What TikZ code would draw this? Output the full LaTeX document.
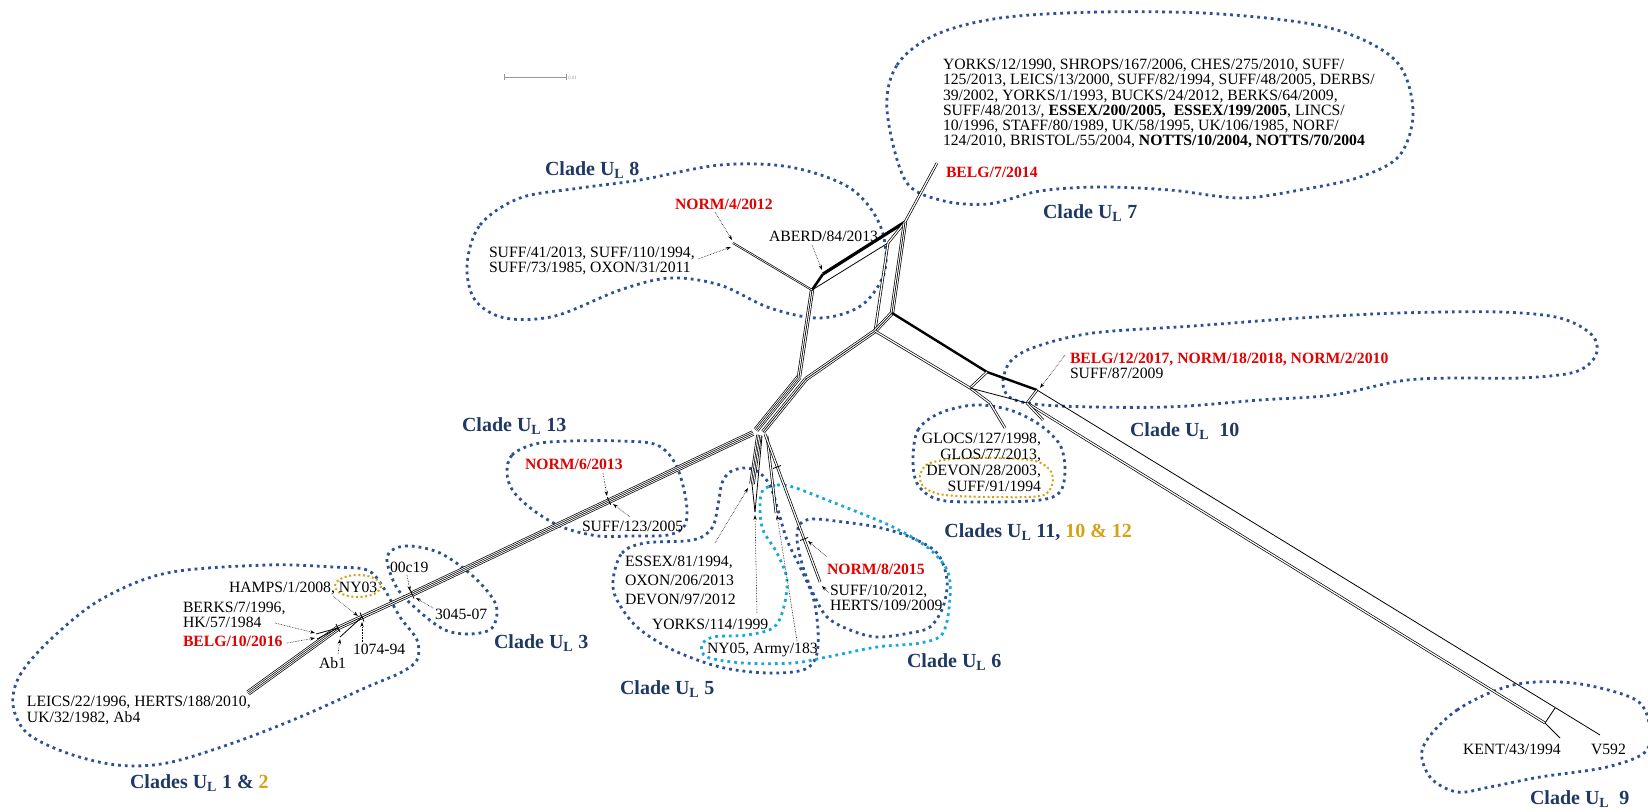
\documentclass[tikz,border=0pt]{standalone}
\usepackage{fontspec}
\setmainfont{Liberation Serif}
\usetikzlibrary{arrows.meta}
\definecolor{navy}{RGB}{31,56,100}
\definecolor{dotblue}{RGB}{44,82,148}
\definecolor{dotcyan}{RGB}{24,168,218}
\definecolor{gold}{RGB}{214,162,20}
\definecolor{lred}{RGB}{226,0,0}
\definecolor{scalegray}{RGB}{150,150,150}
\tikzset{
  lbl/.style={inner sep=0pt, outer sep=0pt, font=\fontsize{15.7}{15.3}\selectfont, align=left},
  redlbl/.style={inner sep=0pt, outer sep=0pt, text=lred, font=\fontsize{15.7}{15.3}\selectfont\bfseries},
  cladelbl/.style={inner sep=0pt, outer sep=0pt, text=navy, font=\fontsize{20}{22}\selectfont\bfseries},
  ring/.style={dotblue, line width=2.8pt, dash pattern=on 2.8pt off 4pt},
  cyanring/.style={dotcyan, line width=2.8pt, dash pattern=on 2.8pt off 4pt},
  goldring/.style={gold, line width=2pt, dash pattern=on 2pt off 2.6pt},
  ptr/.style={densely dotted, line width=0.6pt, -{Stealth[length=5pt,width=3.4pt]}},
  eA/.style={line width=0.8pt},
  eB/.style={double, line width=0.7pt, double distance=1.2pt},
  eC/.style={line width=4.2pt, postaction={draw, white, line width=2.8pt}, postaction={draw, black, line width=0.7pt}},
  eD/.style={line width=5.4pt, postaction={draw, white, line width=4pt}, postaction={draw, black, line width=2.2pt}, postaction={draw, white, line width=0.8pt}},
  ethick/.style={line width=2.4pt},
}
\begin{document}
\begin{tikzpicture}[x=1pt,y=-1pt]
\fill[white] (0,0) rectangle (1648,811);
\useasboundingbox (0,0) rectangle (1648,811);

% ---------------- clade outlines ----------------
\draw[ring] plot[smooth cycle, tension=0.55] coordinates {(887,110) (897,65) (935,35) (1000,18) (1100,12) (1220,14) (1330,28) (1395,60) (1413,110) (1400,155) (1360,177) (1300,190) (1240,198) (1170,190) (1100,187) (1040,191) (988,204) (940,200) (905,180)};
\draw[ring] plot[smooth cycle, tension=0.55] coordinates {(467,265) (480,225) (520,198) (580,188) (640,180) (720,165) (790,167) (850,188) (880,225) (885,270) (862,305) (820,318) (770,308) (720,285) (670,278) (620,290) (555,316) (505,318) (475,300)};
\draw[ring] plot[smooth cycle, tension=0.55] coordinates {(507,473) (512,455) (535,444) (570,441) (620,441) (657,445) (676,465) (686,500) (685,525) (668,535) (630,536) (598,536) (562,527) (533,510) (513,491)};
\draw[ring] plot[smooth cycle, tension=0.55] coordinates {(387,557) (405,546) (440,553) (475,578) (496,605) (492,628) (470,634) (445,630) (420,612) (397,588)};
\draw[ring] plot[smooth cycle, tension=0.55] coordinates {(13,705) (20,675) (50,640) (100,600) (167,573) (267,565) (333,567) (367,570) (383,587) (400,617) (417,640) (417,660) (400,673) (367,687) (300,717) (233,743) (167,763) (117,765) (67,753) (27,733)};
\draw[ring] plot[smooth cycle, tension=0.55] coordinates {(1003,385) (1010,362) (1035,347) (1093,333) (1193,326) (1300,318) (1400,313) (1500,312) (1560,318) (1592,335) (1596,355) (1575,372) (1520,378) (1450,378) (1400,381) (1333,395) (1260,400) (1167,407) (1060,406) (1015,400)};
\draw[ring] plot[smooth cycle, tension=0.55] coordinates {(913,460) (918,430) (940,413) (975,405) (1010,410) (1040,425) (1060,445) (1065,470) (1060,492) (1040,500) (990,502) (940,500) (918,485)};
\draw[goldring] plot[smooth cycle, tension=0.55] coordinates {(920,476) (930,463) (970,458) (1030,460) (1050,470) (1052,485) (1040,496) (990,497) (945,495) (925,488)};
\draw[goldring] (358,586) ellipse [x radius=23, y radius=11];
\draw[ring] plot[smooth cycle, tension=0.55] coordinates {(1423,747) (1457,710) (1513,685) (1573,683) (1630,697) (1647,715) (1647,750) (1607,767) (1540,777) (1490,787) (1457,792) (1430,777)};
\draw[ring] plot[smooth cycle, tension=0.55] coordinates {(613,580) (622,553) (645,543) (693,540) (712,528) (718,505) (722,483) (730,472) (743,468) (755,470) (765,478) (772,490) (778,510) (787,540) (800,567) (813,597) (818,630) (816,657) (803,670) (767,673) (720,667) (673,650) (637,627) (617,600)};
\draw[ring] plot[smooth cycle, tension=0.55] coordinates {(797,540) (800,524) (813,519) (843,522) (877,527) (910,537) (937,553) (947,580) (943,607) (930,627) (910,633) (877,637) (850,630) (827,617) (813,593) (803,567)};
\draw[cyanring] plot[smooth cycle, tension=0.55] coordinates {(763,490) (777,485) (793,487) (827,500) (860,513) (893,527) (927,547) (947,570) (950,597) (943,633) (920,643) (877,647) (827,657) (793,663) (743,663) (707,657) (702,645) (713,637) (747,635) (773,628) (783,610) (787,580) (777,553) (763,530) (760,507)};

% ---------------- network coordinates ----------------
\coordinate (A) at (757,431);
\coordinate (Aw) at (753,433);
\coordinate (P6) at (609,501);
\coordinate (P00) at (412,594);
\coordinate (P74) at (362,617);
\coordinate (Q) at (338,628);
\coordinate (TL) at (248,693);
\coordinate (TB) at (316,634);
\coordinate (TBe) at (317,639);
\coordinate (TAb) at (340,637);
\coordinate (A1) at (756,430);
\coordinate (B) at (799,377);
\coordinate (A2) at (763,432);
\coordinate (B2) at (806,379);
\coordinate (C) at (812,290);
\coordinate (Cab) at (823,274);
\coordinate (Cp) at (888,243);
\coordinate (D) at (905,222);
\coordinate (E1) at (875,331);
\coordinate (E2) at (892,313);
\coordinate (TN4) at (733,243);
\coordinate (TB7) at (937,163);
\coordinate (F1) at (987,372);
\coordinate (F2) at (1037,390);
\coordinate (G1) at (970,388);
\coordinate (G2) at (990,403);
\coordinate (H) at (1027,403);
\coordinate (TG) at (1005,428);
\coordinate (TS) at (1043,420);
\coordinate (TV) at (1600,735);
\coordinate (K1) at (1545,723);
\coordinate (K2) at (1555,708);
\coordinate (TK) at (1560,738);
\coordinate (A3) at (759,435);
\coordinate (TE) at (752,484);
\coordinate (A4) at (762,436);
\coordinate (TY) at (755,512);
\coordinate (A5) at (767,436);
\coordinate (TNY) at (776,513);
\coordinate (A6) at (765,434);
\coordinate (TSU) at (820,582);
\coordinate (P8) at (804,539);
\coordinate (Pbx) at (777,467);

% ---------------- network edges ----------------
\draw[eD] (Aw) -- (P00);
\draw[eC] (P00) -- (P74);
\draw[eC] (P74) -- (Q);
\draw[eD] (Q) -- (TL);
\draw[eA] (Q) -- (TB);
\draw[eA] (Q) -- (TBe);
\draw[eA] (P74) -- (TAb);
\draw[eA] (P6) ++(-1.8,-3.8) -- ++(3.6,7.6);
\draw[eA] (P00) ++(-2,-4.5) -- ++(4,9);
\draw[eA] (P74) ++(-2,-4.5) -- ++(4,9);
\draw[eA] (Q) ++(-2,-4) -- ++(4,8);

\draw[eD] (A1) -- (B);
\draw[eC] (A2) -- (B2);
\draw[eC] (B) -- (C);
\draw[line width=2.6pt] (C) -- (Cab);
\draw[line width=3.2pt] (Cab) -- (D);
\draw[eA] (C) -- (Cp);
\draw[eB] (Cp) -- (D);
\draw[eC] (B2) -- (E1);
\draw[eB] (E1) -- (Cp);
\draw[eC] (E2) -- (D);
\draw[eC] (E1) -- (E2);
\draw[eB] (D) -- (TB7);
\draw[eB, double distance=0.6pt] (C) -- (TN4);

\draw[ethick] (E2) -- (F1);
\draw[ethick] (F1) -- (F2);
\draw[eB] (F1) -- (G1);
\draw[eB] (F2) -- (H);
\draw[eB] (E1) -- (G1);
\draw[eB] (G1) -- (G2);
\draw[eB] (G2) -- (TG);
\draw[eA] (G1) -- (H);
\draw[eA] (F2) -- (TV);
\draw[eB] (H) -- (K1);
\draw[eA] (K1) -- (TK);
\draw[eA] (K1) -- (K2);
\draw[eB] (H) -- (TS);

\draw[eD] (A3) -- (TE);
\draw[eA] (A4) -- (TY);
\draw[eA] (TE) -- (TY);
\draw[eB] (A5) -- (TNY);
\draw[eB] (A6) -- (TSU);
\draw[eA] (P8) ++(-4,1.5) -- ++(8,-3);
\draw[eA] (Pbx) ++(-4,1.5) -- ++(8,-3);

% ---------------- scale bar ----------------
\coordinate (S1) at (504,77);
\coordinate (S2) at (566,77);
\draw[scalegray, line width=0.9pt] (S1) -- (S2);
\draw[scalegray, line width=0.9pt] (S1) ++(0,-3) -- ++(0,6);
\draw[scalegray, line width=0.9pt] (S2) ++(0,-3) -- ++(0,6);
\node[inner sep=0pt, anchor=west, text=scalegray, font=\fontsize{5}{6}\selectfont\itshape] (sc) at (568,78) {0.01};

% ---------------- labels ----------------
\node[lbl, anchor=north west] (top7) at (943,59) {YORKS/12/1990, SHROPS/167/2006, CHES/275/2010, SUFF/\\125/2013, LEICS/13/2000, SUFF/82/1994, SUFF/48/2005, DERBS/\\39/2002, YORKS/1/1993, BUCKS/24/2012, BERKS/64/2009,\\SUFF/48/2013/, \textbf{ESSEX/200/2005,}\ \ \textbf{ESSEX/199/2005}, LINCS/\\10/1996, STAFF/80/1989, UK/58/1995, UK/106/1985, NORF/\\124/2010, BRISTOL/55/2004, \textbf{NOTTS/10/2004, NOTTS/70/2004}};
\node[redlbl, anchor=base west] (belg7) at (946,177) {BELG/7/2014};
\node[cladelbl, anchor=base west] (c7) at (1043,218) {Clade U\textsubscript{L} 7};

\node[cladelbl, anchor=base west] (c8) at (545,175) {Clade U\textsubscript{L} 8};
\node[redlbl, anchor=base west] (norm4) at (675,209) {NORM/4/2012};
\node[lbl, anchor=base west] (aberd) at (769,241) {ABERD/84/2013};
\node[lbl, anchor=north west, font=\fontsize{15.7}{15}\selectfont] (s41) at (489,247) {SUFF/41/2013, SUFF/110/1994,\\SUFF/73/1985, OXON/31/2011};

\node[cladelbl, anchor=base west] (c13) at (462,431) {Clade U\textsubscript{L} 13};
\node[redlbl, anchor=base west] (norm6) at (525,469) {NORM/6/2013};
\node[lbl, anchor=base west] (s123) at (582,531) {SUFF/123/2005};

\node[cladelbl, anchor=base west] (c3) at (494,648) {Clade U\textsubscript{L} 3};
\node[lbl, anchor=base west] (c0019) at (390,572) {00c19};
\node[lbl, anchor=base west] (c3045) at (435,619) {3045-07};

\node[lbl, anchor=base west] (hamps) at (229,592) {HAMPS/1/2008, NY03};
\node[lbl, anchor=north west, font=\fontsize{15.7}{15}\selectfont] (berks) at (183,602) {BERKS/7/1996,\\HK/57/1984};
\node[redlbl, anchor=base west] (belg10) at (183,646) {BELG/10/2016};
\node[lbl, anchor=base west] (ab1) at (319,668) {Ab1};
\node[lbl, anchor=base west] (n1074) at (353,654) {1074-94};
\node[lbl, anchor=north west, font=\fontsize{15.7}{16}\selectfont] (leics) at (27,696) {LEICS/22/1996, HERTS/188/2010,\\UK/32/1982, Ab4};
\node[cladelbl, anchor=base west] (c12) at (130,788) {Clades U\textsubscript{L} 1 \& \textcolor{gold}{2}};

\node[lbl, anchor=north west, font=\fontsize{15.7}{19}\selectfont] (essex) at (625,556) {ESSEX/81/1994,\\OXON/206/2013\\DEVON/97/2012};
\node[lbl, anchor=base west] (yorks) at (652,629) {YORKS/114/1999};
\node[lbl, anchor=base west] (ny05) at (707,653) {NY05, Army/183};
\node[cladelbl, anchor=base west] (c5) at (620,694) {Clade U\textsubscript{L} 5};
\node[redlbl, anchor=base west] (norm8) at (827,574) {NORM/8/2015};
\node[lbl, anchor=north west, font=\fontsize{15.7}{15}\selectfont] (s10) at (830,585) {SUFF/10/2012,\\HERTS/109/2009};
\node[cladelbl, anchor=base west] (c6) at (907,667) {Clade U\textsubscript{L} 6};

\node[redlbl, anchor=base west] (belg12) at (1070,363) {BELG/12/2017, NORM/18/2018, NORM/2/2010};
\node[lbl, anchor=base west] (s87) at (1070,378) {SUFF/87/2009};
\node[cladelbl, anchor=base west] (c10) at (1130,436) {Clade U\textsubscript{L}\ \ 10};
\node[lbl, anchor=north east, align=right, font=\fontsize{15.7}{16}\selectfont] (glocs) at (1041,433) {GLOCS/127/1998,\\GLOS/77/2013,\\DEVON/28/2003,\\SUFF/91/1994};
\node[cladelbl, anchor=base east] (c11) at (1132,537) {Clades U\textsubscript{L} 11, \textcolor{gold}{10 \& 12}};

\node[lbl, anchor=base west] (kent) at (1463,754) {KENT/43/1994};
\node[lbl, anchor=base west] (v592) at (1591,754) {V592};
\node[cladelbl, anchor=base west] (c9) at (1530,804) {Clade U\textsubscript{L}\ \ 9};

% ---------------- pointer arrows ----------------
\coordinate (n4a) at (715,212);   \coordinate (n4b) at (732,240);
\coordinate (s41a) at (698,259);  \coordinate (s41b) at (731,247);
\coordinate (aba) at (812,245);   \coordinate (abb) at (822,270);
\coordinate (n6a) at (603,473);   \coordinate (n6b) at (607,496);
\coordinate (s123a) at (630,517); \coordinate (s123b) at (613,504);
\coordinate (esa) at (715,543);   \coordinate (esb) at (748,488);
\coordinate (yoa) at (757,613);   \coordinate (yob) at (755,515);
\coordinate (nya) at (797,641);   \coordinate (nyb) at (777,515);
\coordinate (n8a) at (827,557);   \coordinate (n8b) at (808,541);
\coordinate (s10a) at (829,593);  \coordinate (s10b) at (822,586);
\coordinate (b12a) at (1065,355); \coordinate (b12b) at (1040,388);
\coordinate (nya3) at (333,596);  \coordinate (nyb3) at (358,616);
\coordinate (bka) at (275,623);   \coordinate (bkb) at (315,633);
\coordinate (b10a) at (287,643);  \coordinate (b10b) at (315,638);
\coordinate (aba1) at (338,654);  \coordinate (abb1) at (340,639);
\coordinate (n74a) at (362,642);  \coordinate (n74b) at (362,622);
\coordinate (c0a) at (407,575);   \coordinate (c0b) at (410,591);
\coordinate (c3a) at (433,608);   \coordinate (c3b) at (416,598);
\foreach \p/\q in {n4a/n4b, s41a/s41b, aba/abb, n6a/n6b, s123a/s123b, esa/esb, yoa/yob, nya/nyb, n8a/n8b, s10a/s10b, b12a/b12b, nya3/nyb3, bka/bkb, b10a/b10b, aba1/abb1, n74a/n74b, c0a/c0b, c3a/c3b}
  \draw[ptr] (\p) -- (\q);
\end{tikzpicture}
\end{document}
